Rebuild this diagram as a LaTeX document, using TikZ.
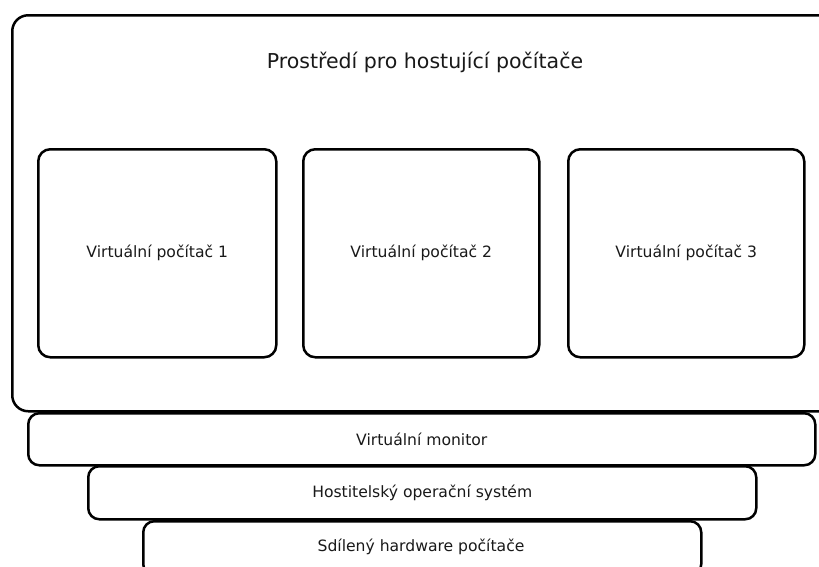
\documentclass[tikz,border=0pt]{standalone}
\usepackage{fontspec}
\setmainfont{DejaVu Sans}
\begin{document}
\begin{tikzpicture}[x=1pt,y=-1pt,
  box/.style={draw=black,line width=2.5pt,rounded corners=#1,fill=white,inner sep=0pt,anchor=north west},
  box/.default=12pt,
  lbl/.style={font=\fontsize{15.6}{18}\selectfont,text=black!90}]
\useasboundingbox (0,0) rectangle (819,566);
\clip (0,0) rectangle (819,566);
% outer environment
\node[box=16pt,minimum width=829pt,minimum height=396pt] (env) at (11,14) {};
\node[font=\fontsize{20.5}{24}\selectfont,text=black!90] (envt) at (425,62) {Prostředí pro hostující počítače};
% virtual computers
\node[box,minimum width=238pt,minimum height=208pt] (vm1) at (37,148) {};
\node[box,minimum width=236pt,minimum height=208pt] (vm2) at (302,148) {};
\node[box,minimum width=236pt,minimum height=208pt] (vm3) at (567,148) {};
\node[lbl] at (vm1.center) {Virtuální počítač 1};
\node[lbl] at (vm2.center) {Virtuální počítač 2};
\node[lbl] at (vm3.center) {Virtuální počítač 3};
% layers
\node[box=11pt,minimum width=787pt,minimum height=52pt] (mon) at (27,412) {};
\node[lbl] at (mon.center) {Virtuální monitor};
\node[box=11pt,minimum width=668pt,minimum height=53pt] (os) at (87,465) {};
\node[lbl] at (os.center) {Hostitelský operační systém};
\node[box=11pt,minimum width=558pt,minimum height=54pt] (hw) at (142,520) {};
\node[lbl] at (421,547) {Sdílený hardware počítače};
\end{tikzpicture}
\end{document}
